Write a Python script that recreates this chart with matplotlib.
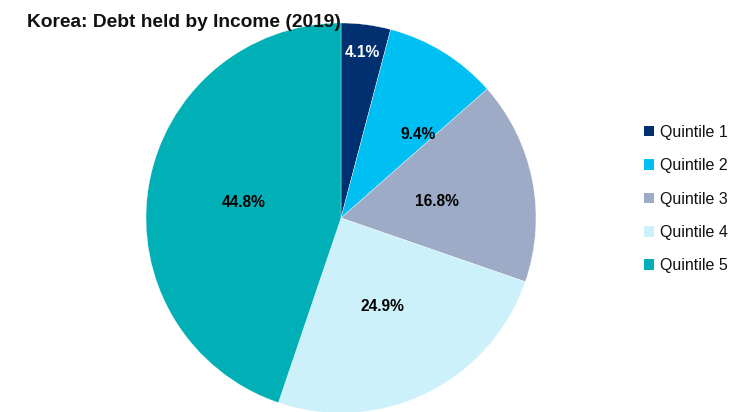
import matplotlib
matplotlib.use("Agg")
import matplotlib.pyplot as plt
from matplotlib.patches import Patch

plt.rcParams['font.family'] = ['Liberation Sans', 'DejaVu Sans']

# debt share by income quintile, percent
quintiles = ['Quintile 1', 'Quintile 2', 'Quintile 3', 'Quintile 4', 'Quintile 5']
shares = [4.1, 9.4, 16.8, 24.9, 44.8]
colors = ['#003070', '#00bff2', '#9dabc7', '#cdf1fa', '#00b0b6']
text_colors = ['white', 'black', 'black', 'black', 'black']
# where each value label sits (axes data units, pie radius = 1)
label_xy = [(0.108, 0.851), (0.395, 0.426), (0.492, 0.087),
            (0.215, -0.456), (-0.497, 0.082)]

W, H = 733, 412
fig = plt.figure(figsize=(W / 100, H / 100), dpi=100)

# pie centred at (341, 218) px, radius 195 px
cx, cy, r = 341, 218, 195
ax = fig.add_axes([(cx - r) / W, (H - cy - r) / H, 2 * r / W, 2 * r / H])
wedges, _ = ax.pie(shares, colors=colors, startangle=90, counterclock=False,
                   radius=1, wedgeprops=dict(linewidth=0.25, edgecolor='white'))
ax.set_xlim(-1, 1)
ax.set_ylim(-1, 1)
ax.set_aspect('auto')
for w in wedges:
    w.set_clip_on(False)

for val, (x, y), tc in zip(shares, label_xy, text_colors):
    ax.text(x, y, f'{val:.1f}%', ha='center', va='center', color=tc,
            fontsize=11.2, fontweight='bold')

fig.text(27 / W, 1 - 27 / H, 'Korea: Debt held by Income (2019)',
         ha='left', va='baseline', fontsize=13.8, fontweight='bold',
         color='#111111')

handles = [Patch(facecolor=c, edgecolor='none') for c in colors]
fig.legend(handles, quintiles, loc='center left',
           bbox_to_anchor=(644 / W, 1 - 199 / H), frameon=False,
           fontsize=11.5, handlelength=0.65, handleheight=0.65,
           handletextpad=0.35, labelspacing=1.15, borderpad=0,
           borderaxespad=0, labelcolor='#111111')

fig.savefig('out.png', dpi=100)
